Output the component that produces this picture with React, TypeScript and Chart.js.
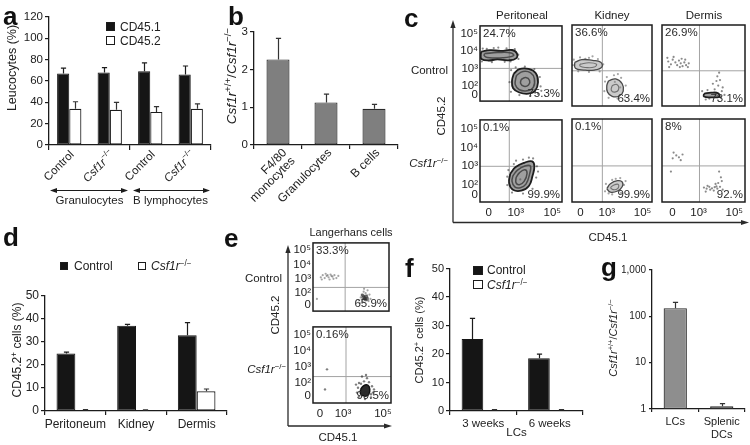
import React, { useEffect, useRef } from 'react';
import { Chart, registerables } from 'chart.js';

Chart.register(...registerables);

const FONT = '"Liberation Sans", Arial, Helvetica, sans-serif';
const INK = '#1c1c1c';
const TXT = '#222222';
Chart.defaults.font.family = FONT;
Chart.defaults.color = TXT;
if (typeof document !== 'undefined') document.body.style.margin = '0';

// ================= DATA =================
// Panel a
const aCategories = ['Control', 'Csf1r-/-', 'Control', 'Csf1r-/-'];
const aGroups = ['Granulocytes', 'B lymphocytes'];
const aSeriesNames = ['CD45.1', 'CD45.2'];
const aCD451 = [67, 68, 69, 66];
const aCD451Err = [5, 4.5, 8, 8];
const aCD452 = [34, 33, 31, 34];
const aCD452Err = [6.5, 7, 5, 4.5];
const aYMin = 0, aYMax = 120, aYStep = 20;

// Panel b
const bCategories = [['F4/80', 'monocytes'], ['Granulocytes'], ['B cells']];
const bRatio = [2.27, 1.13, 0.96];
const bRatioErr = [0.56, 0.22, 0.12];
const bYMin = 0, bYMax = 3, bYStep = 1;

// Panel c (flow cytometry; axis units are decades on a biexponential display)
const cColumns = ['Peritoneal', 'Kidney', 'Dermis'];
const cRows = ['Control', 'Csf1r-/-'];
const cTopLeft = ['24.7%', '36.6%', '26.9%', '0.1%', '0.1%', '8%'];
const cBottomRight = ['75.3%', '63.4%', '73.1%', '99.9%', '99.9%', '92.%'];
const flowXLabels = ['0', '10³', '10⁵'];
const flowYLabels = ['0', '10²', '10³', '10⁴', '10⁵'];
const cXTicks = [1.53, 3, 5];
const cYTicks = [1.47, 2, 3, 4, 5];
const cXRanges = [[1.05, 5.53], [1.05, 5.53], [0.95, 5.6]];
const cYRange = [1.1, 5.47];
const cGateX = [2.65, 2.75, 3.05];
const cGateY = 3.0;

const cPerCtrlClusters = [
  [
    [[1.12, 3.98], [1.6, 4.06], [2.2, 4.02], [2.8, 4.07], [3.06, 3.88], [3.02, 3.58], [2.6, 3.47], [2.0, 3.52], [1.5, 3.46], [1.13, 3.55], [1.09, 3.77], [1.12, 3.98]],
    [[1.3, 3.86], [2.0, 3.92], [2.75, 3.9], [2.88, 3.74], [2.3, 3.62], [1.45, 3.64], [1.28, 3.74], [1.3, 3.86]],
  ],
  [
    [[2.9, 2.7], [3.2, 2.96], [3.7, 2.97], [4.1, 2.72], [4.22, 2.2], [4.06, 1.7], [3.7, 1.53], [3.2, 1.6], [2.86, 1.85], [2.8, 2.3], [2.9, 2.7]],
    [[3.05, 2.6], [3.4, 2.82], [3.82, 2.74], [4.02, 2.4], [3.96, 1.9], [3.62, 1.7], [3.2, 1.76], [2.98, 2.05], [3.0, 2.4], [3.05, 2.6]],
    [[3.3, 2.36], [3.55, 2.47], [3.76, 2.3], [3.7, 2.04], [3.45, 1.96], [3.27, 2.12], [3.3, 2.36]],
  ],
];
const cPerCtrlDots = [[1.2, 4.15], [1.8, 4.18], [2.5, 4.16], [2.95, 4.12], [3.14, 3.8], [2.4, 3.38], [1.7, 3.36], [1.15, 3.4], [3.15, 3.55], [2.05, 4.21], [1.42, 4.13], [2.72, 3.4], [2.75, 2.9], [3.0, 3.06], [3.5, 3.1], [4.02, 2.96], [4.32, 2.5], [4.36, 1.95], [4.22, 1.52], [3.8, 1.4], [3.2, 1.45], [2.74, 1.64], [2.66, 2.2], [4.4, 1.7]];

const cKidCtrlClusters = [
  [
    [[1.2, 3.45], [1.6, 3.6], [2.2, 3.56], [2.66, 3.46], [2.72, 3.2], [2.3, 3.04], [1.7, 3.04], [1.24, 3.14], [1.2, 3.45]],
    [[1.5, 3.36], [2.0, 3.43], [2.42, 3.35], [2.3, 3.2], [1.8, 3.18], [1.5, 3.25], [1.5, 3.36]],
  ],
  [
    [[3.1, 2.46], [3.5, 2.56], [3.86, 2.3], [3.92, 1.9], [3.7, 1.64], [3.3, 1.62], [3.04, 1.85], [3.0, 2.2], [3.1, 2.46]],
    [[3.3, 2.2], [3.56, 2.26], [3.66, 2.0], [3.45, 1.85], [3.25, 1.95], [3.3, 2.2]],
  ],
];
const cKidCtrlDots = [[1.15, 3.6], [1.5, 3.72], [2.0, 3.7], [2.5, 3.63], [2.8, 3.35], [2.6, 2.96], [2.0, 2.94], [1.4, 2.97], [1.1, 3.3], [2.2, 3.78], [1.8, 3.64], [3.0, 2.66], [3.4, 2.76], [3.8, 2.62], [4.06, 2.2], [4.02, 1.6], [3.6, 1.5], [3.1, 1.54], [2.86, 1.9], [2.9, 2.42], [3.62, 2.82], [3.45, 2.4], [3.75, 2.1]];

const cDerCtrlClusters = [
  [[[3.3, 1.76], [3.7, 1.82], [4.1, 1.79], [4.16, 1.6], [3.7, 1.57], [3.3, 1.61], [3.3, 1.76]]],
];
const cDerCtrlDots = [[1.3, 3.5], [1.45, 3.35], [1.55, 3.6], [1.7, 3.45], [1.8, 3.3], [1.9, 3.55], [2.0, 3.4], [2.1, 3.25], [2.2, 3.45], [2.3, 3.3], [2.4, 3.2], [1.6, 3.75], [2.05, 3.65], [1.35, 3.2], [2.45, 3.4], [1.95, 3.2], [1.25, 3.7], [2.25, 3.6], [3.2, 1.9], [3.5, 1.96], [3.9, 2.0], [4.1, 2.2], [4.2, 2.5], [4.05, 2.7], [4.3, 1.9], [3.8, 2.3], [4.0, 2.45], [4.35, 2.1], [3.6, 1.5], [4.25, 1.55], [3.4, 1.45], [4.15, 2.9], [3.95, 1.7], [4.45, 1.7]];

const cPerKOClusters = [
  [
    [[2.7, 2.6], [3.0, 2.96], [3.5, 3.2], [3.9, 3.26], [4.02, 3.0], [3.92, 2.5], [3.72, 1.95], [3.3, 1.7], [2.85, 1.75], [2.64, 2.1], [2.7, 2.6]],
    [[2.85, 2.5], [3.1, 2.8], [3.5, 3.02], [3.8, 3.02], [3.76, 2.6], [3.56, 2.05], [3.25, 1.86], [2.95, 1.9], [2.8, 2.2], [2.85, 2.5]],
    [[3.02, 2.4], [3.2, 2.65], [3.5, 2.82], [3.62, 2.62], [3.46, 2.2], [3.2, 2.02], [3.02, 2.12], [3.02, 2.4]],
  ],
];
const cPerKODots = [[2.6, 2.8], [2.9, 3.12], [3.4, 3.36], [3.95, 3.42], [4.16, 3.0], [4.12, 2.4], [3.92, 1.8], [3.4, 1.55], [2.8, 1.6], [2.54, 2.0], [2.54, 2.45], [4.22, 2.72], [3.02, 3.3], [3.72, 3.46], [3.25, 2.3]];

const cKidKOClusters = [
  [
    [[3.0, 1.8], [3.2, 2.06], [3.6, 2.22], [3.86, 2.16], [3.86, 1.9], [3.6, 1.68], [3.2, 1.62], [3.0, 1.8]],
    [[3.2, 1.86], [3.4, 2.0], [3.65, 2.02], [3.6, 1.8], [3.35, 1.75], [3.2, 1.86]],
  ],
];
const cKidKODots = [[2.95, 2.05], [3.3, 2.26], [3.75, 2.36], [3.96, 2.0], [3.8, 1.58], [3.3, 1.5], [2.9, 1.66], [3.5, 2.32], [4.05, 2.2], [3.1, 1.55]];

const cDerKODots = [[1.6, 3.7], [1.75, 3.55], [1.9, 3.45], [2.0, 3.3], [1.55, 3.4], [2.1, 3.6], [1.45, 2.7], [3.3, 1.86], [3.45, 1.8], [3.6, 1.9], [3.75, 1.82], [3.9, 1.88], [4.05, 1.8], [4.2, 1.9], [3.5, 1.95], [3.85, 1.7], [4.1, 2.1], [4.25, 2.4], [4.15, 2.7], [4.3, 2.2], [3.95, 2.05], [4.35, 1.75], [3.4, 1.65], [3.65, 1.75], [4.0, 1.92]];

// Panel d
const dCategories = ['Peritoneum', 'Kidney', 'Dermis'];
const dSeriesNames = ['Control', 'Csf1r-/-'];
const dControl = [24.8, 36.8, 32.7];
const dControlErr = [0.6, 0.6, 5.5];
const dKO = [0.3, 0.3, 8.5];
const dKOErr = [0.3, 0.2, 1.0];
const dYMin = 0, dYMax = 50, dYStep = 10;

// Panel e
const eTitle = 'Langerhans cells';
const eTopLeft = ['33.3%', '0.16%'];
const eBottomRight = ['65.9%', '99.5%'];
const eXTicks = [1.85, 3, 5];
const eYTicks = [1.2, 2, 3, 4, 5];
const eXRange = [1.5, 5.4];
const eYRange = [0.75, 5.5];
const eGateX = 3.15;
const eGateY = 2.4;
const eCtrlDots = [[1.9, 3.1], [2.0, 3.25], [2.1, 3.05], [2.2, 3.2], [2.3, 3.1], [2.4, 3.3], [2.5, 3.15], [2.6, 3.25], [2.7, 3.05], [2.15, 3.35], [2.35, 2.95], [2.55, 3.0], [1.95, 2.95], [2.8, 3.2], [2.45, 3.2], [2.25, 3.25], [3.85, 1.5], [3.95, 1.7], [4.0, 1.9], [4.1, 1.6], [4.15, 1.8], [4.2, 2.0], [4.25, 1.5], [4.3, 1.7], [4.4, 1.9], [4.05, 1.4], [4.35, 1.45], [4.1, 2.1], [3.9, 1.3], [4.2, 1.65], [4.15, 1.75], [4.45, 1.6], [4.0, 1.55], [4.28, 1.85], [4.12, 2.3], [4.3, 2.2], [1.7, 1.6]];
const eCtrlCore = [[4.15, 1.65], [4.22, 1.78], [4.08, 1.72], [4.18, 1.55], [4.05, 1.85], [4.28, 1.6]];
const eKOClusters = [
  [[[3.88, 1.6], [4.02, 1.82], [4.24, 1.86], [4.34, 1.6], [4.28, 1.28], [4.06, 1.18], [3.88, 1.32], [3.88, 1.6]]],
];
const eKODots = [[3.75, 1.7], [3.8, 2.0], [4.05, 2.1], [4.3, 2.05], [4.45, 1.8], [4.5, 1.4], [4.4, 1.1], [4.1, 1.0], [3.8, 1.15], [3.7, 1.4], [4.2, 2.3], [3.95, 2.4], [4.55, 1.6], [4.15, 2.5], [3.65, 1.9], [2.2, 2.85], [2.1, 1.6], [3.9, 1.95], [4.4, 1.3]];

// Panel f
const fCategories = ['3 weeks', '6 weeks'];
const fAxisLabel = 'LCs';
const fControl = [25.3, 18.5];
const fControlErr = [7.2, 1.5];
const fKO = [0.3, 0.3];
const fKOErr = [0.2, 0.2];
const fYMin = 0, fYMax = 50, fYStep = 10;

// Panel g
const gCategories = ['LCs', ['Splenic', 'DCs']];
const gRatio = [150, 1.15];
const gRatioErr = [50, 0.15];
const gTicks = [1, 10, 100, 1000];
const gTickLabels = ['1', '10', '100', '1,000'];

// ================= HELPERS =================
interface G { L: number; T: number; R: number; B: number; yw: number; xh: number; pl?: number; pt?: number; pr?: number; pb?: number; }
function place(g: G) {
  const pl = g.pl ?? 2, pt = g.pt ?? 8, pr = g.pr ?? 6, pb = g.pb ?? 2;
  return {
    rect: { left: g.L - g.yw - pl, top: g.T - pt, width: g.R - g.L + g.yw + pl + pr, height: g.B - g.T + g.xh + pt + pb },
    padding: { left: pl, top: pt, right: pr, bottom: pb },
  };
}

function baseOptions(padding: any, scales: any) {
  return {
    responsive: false, maintainAspectRatio: false, animation: false, devicePixelRatio: 1, events: [],
    layout: { padding },
    plugins: { legend: { display: false }, tooltip: { enabled: false } },
    scales,
  };
}

function catAxis(h: number, tickLen: number, every2 = false, labels = false, size = 11.5, pad = 2) {
  return {
    type: 'category',
    ticks: { display: labels, font: { family: FONT, size }, color: TXT, padding: pad, maxRotation: 0, minRotation: 0, autoSkip: false },
    grid: {
      offset: true, drawOnChartArea: false, drawTicks: true, tickLength: tickLen, lineWidth: 1.2,
      color: every2 ? (c: any) => (c.index === undefined || c.index % 2 === 0 ? INK : 'rgba(0,0,0,0)') : INK,
    },
    border: { display: true, color: INK, width: 1.3 },
    afterFit: (s: any) => { s.height = h; },
  };
}

function valAxis(w: number, min: number, max: number, step: number, size = 11, tickLen = 4) {
  return {
    type: 'linear', min, max,
    ticks: { stepSize: step, font: { family: FONT, size }, color: TXT, padding: 2 },
    grid: { drawOnChartArea: false, drawTicks: true, tickLength: tickLen, color: INK, lineWidth: 1.2 },
    border: { display: true, color: INK, width: 1.3 },
    afterFit: (s: any) => { s.width = w; },
  };
}

function errorBars(errs: (number[] | null)[], colors: string[], cap = 2.6) {
  return {
    id: 'errbars',
    afterDatasetsDraw(chart: any) {
      const ctx = chart.ctx; const ys = chart.scales.y;
      ctx.save(); ctx.lineWidth = 1.2;
      chart.data.datasets.forEach((ds: any, i: number) => {
        const e = errs[i]; if (!e) return;
        chart.getDatasetMeta(i).data.forEach((el: any, j: number) => {
          const top = ys.getPixelForValue(ds.data[j] + e[j]);
          const x = Math.round(el.x) + 0.5;
          ctx.strokeStyle = colors[i];
          ctx.beginPath();
          ctx.moveTo(x, el.y); ctx.lineTo(x, top);
          ctx.moveTo(x - cap, top); ctx.lineTo(x + cap, top);
          ctx.stroke();
        });
      });
      ctx.restore();
    },
  };
}

type Seg = { t: string; i?: boolean; sup?: boolean };
function segsFor(label: string): Seg[] {
  if (label.startsWith('Csf1r')) return [{ t: 'Csf1r', i: true }, { t: '−/−', sup: true }];
  return [{ t: label }];
}
function drawRich(ctx: any, segs: Seg[], x: number, y: number, size: number, align: string, rot: number, color: string) {
  ctx.save(); ctx.translate(x, y); ctx.rotate(rot);
  const f = (s: Seg) => `${s.i ? 'italic ' : ''}${s.sup ? size * 0.68 : size}px ${FONT}`;
  let w = 0; segs.forEach((s) => { ctx.font = f(s); w += ctx.measureText(s.t).width; });
  let cx = align === 'left' ? 0 : align === 'center' ? -w / 2 : -w;
  ctx.fillStyle = color; ctx.textBaseline = 'middle'; ctx.textAlign = 'left';
  segs.forEach((s) => { ctx.font = f(s); ctx.fillText(s.t, cx, s.sup ? -size * 0.38 : 0); cx += ctx.measureText(s.t).width; });
  ctx.restore();
}
function tri(ctx: any, x: number, y: number, dir: number) {
  ctx.beginPath(); ctx.moveTo(x, y); ctx.lineTo(x + dir * 7, y - 2.6); ctx.lineTo(x + dir * 7, y + 2.6); ctx.closePath(); ctx.fill();
}

// ================= PANEL CONFIGS =================
const gA: G = { L: 49, T: 16, R: 211, B: 145, yw: 30, xh: 62 };
const makeA = (padding: any) => ({
  type: 'bar',
  data: {
    labels: aCategories,
    datasets: [
      { label: aSeriesNames[0], data: aCD451, backgroundColor: '#151515', borderColor: '#151515', borderWidth: 1, borderSkipped: false, categoryPercentage: 0.6, barPercentage: 1 },
      { label: aSeriesNames[1], data: aCD452, backgroundColor: '#ffffff', borderColor: INK, borderWidth: 1.2, borderSkipped: false, categoryPercentage: 0.6, barPercentage: 1 },
    ],
  },
  options: baseOptions(padding, { x: catAxis(62, 5, true), y: valAxis(30, aYMin, aYMax, aYStep, 11.5) }),
  plugins: [
    errorBars([aCD451Err, aCD452Err], [INK, '#333']),
    {
      id: 'aLabels',
      afterDraw(chart: any) {
        const xs = chart.scales.x; const ctx = chart.ctx;
        aCategories.forEach((lab, i) => {
          drawRich(ctx, segsFor(lab), xs.getPixelForTick(i) + 3, xs.top + 8, 11.5, 'right', -Math.PI / 4, TXT);
        });
        const left = xs.left, right = xs.right;
        const mid = (xs.getPixelForTick(1) + xs.getPixelForTick(2)) / 2;
        const ay = xs.top + 45.5;
        ctx.save(); ctx.strokeStyle = INK; ctx.fillStyle = INK; ctx.lineWidth = 1.2;
        [[left + 1, mid - 2], [mid + 3, right - 1]].forEach(([x1, x2]) => {
          ctx.beginPath(); ctx.moveTo(x1 + 4, ay); ctx.lineTo(x2 - 4, ay); ctx.stroke();
          tri(ctx, x1, ay, 1); tri(ctx, x2, ay, -1);
        });
        ctx.font = `11.5px ${FONT}`; ctx.textAlign = 'center'; ctx.textBaseline = 'middle'; ctx.fillStyle = TXT;
        ctx.fillText(aGroups[0], (left + mid) / 2, ay + 10);
        ctx.fillText(aGroups[1], (mid + right) / 2, ay + 10);
        ctx.restore();
      },
    },
  ],
});

const gB: G = { L: 254, T: 31, R: 398, B: 145, yw: 22, xh: 60 };
const makeB = (padding: any) => ({
  type: 'bar',
  data: {
    labels: bCategories.map((c) => c.join(' ')),
    datasets: [{ data: bRatio, backgroundColor: '#7f7f7f', borderColor: '#2a2a2a', borderWidth: 1.2, borderSkipped: false, categoryPercentage: 1, barPercentage: 0.48 }],
  },
  options: baseOptions(padding, { x: catAxis(60, 4), y: valAxis(22, bYMin, bYMax, bYStep, 11.5) }),
  plugins: [
    errorBars([bRatioErr], ['#333']),
    {
      id: 'bLabels',
      afterDraw(chart: any) {
        const xs = chart.scales.x; const ctx = chart.ctx;
        bCategories.forEach((lines, i) => {
          const px = xs.getPixelForTick(i);
          const ax = lines.length > 1 ? px + 7 : px + 4;
          ctx.save(); ctx.translate(ax, xs.top + 6); ctx.rotate(-Math.PI / 4);
          ctx.font = `12px ${FONT}`; ctx.fillStyle = TXT; ctx.textAlign = 'right'; ctx.textBaseline = 'middle';
          lines.forEach((ln, k) => ctx.fillText(ln, 0, k * 11.5));
          ctx.restore();
        });
      },
    },
  ],
});

type Tone = { stroke: string; inner: string; fill: string; width: number; dot: string; dotR: number };
const DARK: Tone = { stroke: '#1e1e1e', inner: '#2e2e2e', fill: 'rgba(95,95,95,0.6)', width: 1.8, dot: 'rgba(60,60,60,0.6)', dotR: 1.1 };
const MID: Tone = { stroke: '#4a4a4a', inner: '#5a5a5a', fill: 'rgba(140,140,140,0.45)', width: 1.3, dot: 'rgba(90,90,90,0.55)', dotR: 1.1 };
const BLACK: Tone = { stroke: '#111', inner: '#111', fill: 'rgba(20,20,20,0.9)', width: 1.5, dot: 'rgba(40,40,40,0.6)', dotR: 1.2 };

interface FlowSpec {
  g: G; xr: number[]; yr: number[]; gx: number; gy: number;
  showX: boolean; showY: boolean; xTicks: number[]; yTicks: number[];
  clusters: number[][][][]; dots: number[][]; core?: number[][]; tone: Tone; tl: string; br: string;
}
function flowMaker(s: FlowSpec) {
  return (padding: any) => {
    const xy = (p: number[]) => ({ x: p[0], y: p[1] });
    const datasets: any[] = [];
    s.clusters.forEach((cl) => cl.forEach((poly, lvl) => {
      datasets.push({
        type: 'line', data: poly.map(xy), borderColor: lvl === 0 ? s.tone.stroke : s.tone.inner,
        borderWidth: lvl === 0 ? s.tone.width : s.tone.width * 0.85, backgroundColor: s.tone.fill,
        fill: lvl === 0 ? 'shape' : false, tension: 0.45, pointRadius: 0, order: 1,
      });
    }));
    if (s.core) datasets.push({ type: 'scatter', data: s.core.map(xy), pointRadius: 1.8, backgroundColor: 'rgba(45,45,45,0.65)', borderWidth: 0, order: 1 });
    datasets.push({ type: 'scatter', data: s.dots.map(xy), pointRadius: s.tone.dotR, backgroundColor: s.tone.dot, borderWidth: 0, order: 2 });
    const gate = { type: 'line', borderColor: '#a3a3a3', borderWidth: 1, pointRadius: 0, tension: 0, order: 5 };
    datasets.push({ ...gate, data: [{ x: s.gx, y: s.yr[0] }, { x: s.gx, y: s.yr[1] }] });
    datasets.push({ ...gate, data: [{ x: s.xr[0], y: s.gy }, { x: s.xr[1], y: s.gy }] });
    return {
      type: 'scatter',
      data: { datasets },
      options: baseOptions(padding, {
        x: {
          type: 'linear', min: s.xr[0], max: s.xr[1],
          afterBuildTicks: (sc: any) => { sc.ticks = s.xTicks.map((v) => ({ value: v })); },
          ticks: { display: s.showX, callback: (_v: any, i: number) => flowXLabels[i], font: { family: FONT, size: 11.5 }, color: TXT, padding: 4, maxRotation: 0, minRotation: 0, autoSkip: false },
          grid: { display: false, drawTicks: false }, border: { display: false },
          afterFit: (sc: any) => { sc.height = s.g.xh; },
        },
        y: {
          type: 'linear', min: s.yr[0], max: s.yr[1],
          afterBuildTicks: (sc: any) => { sc.ticks = s.yTicks.map((v) => ({ value: v })); },
          ticks: { display: s.showY, callback: (_v: any, i: number) => flowYLabels[i], font: { family: FONT, size: 11.5 }, color: TXT, padding: 2, autoSkip: false },
          grid: { display: false, drawTicks: false }, border: { display: false },
          afterFit: (sc: any) => { sc.width = s.g.yw; },
        },
      }),
      plugins: [{
        id: 'flowDecor',
        afterDraw(chart: any) {
          const { ctx, chartArea: a } = chart;
          ctx.save();
          ctx.strokeStyle = INK; ctx.lineWidth = 1.5;
          ctx.strokeRect(a.left, a.top, a.right - a.left, a.bottom - a.top);
          ctx.fillStyle = '#2a2a2a'; ctx.font = `11.5px ${FONT}`; ctx.textBaseline = 'middle';
          ctx.textAlign = 'left'; ctx.fillText(s.tl, a.left + 3, a.top + 8);
          ctx.textAlign = 'right'; ctx.fillText(s.br, a.right - 2, a.bottom - 7);
          ctx.restore();
        },
      }],
    };
  };
}

const cBoxes: G[] = [
  { L: 480, T: 25, R: 564, B: 108, yw: 26, xh: 0, pr: 2 },
  { L: 570, T: 25, R: 654, B: 108, yw: 0, xh: 0, pr: 2 },
  { L: 660, T: 25, R: 748, B: 108, yw: 0, xh: 0, pr: 1 },
  { L: 480, T: 119, R: 564, B: 202, yw: 26, xh: 18, pr: 2 },
  { L: 570, T: 119, R: 654, B: 202, yw: 0, xh: 18, pr: 2 },
  { L: 660, T: 119, R: 748, B: 202, yw: 0, xh: 18, pr: 1 },
];
const cClusters = [cPerCtrlClusters, cKidCtrlClusters, cDerCtrlClusters, cPerKOClusters, cKidKOClusters, []];
const cDots = [cPerCtrlDots, cKidCtrlDots, cDerCtrlDots, cPerKODots, cKidKODots, cDerKODots];
const cTones = [DARK, MID, DARK, DARK, MID, DARK];
const cMakers = cBoxes.map((g, k) => flowMaker({
  g, xr: cXRanges[k % 3], yr: cYRange, gx: cGateX[k % 3], gy: cGateY,
  showX: k >= 3, showY: k % 3 === 0, xTicks: cXTicks, yTicks: cYTicks,
  clusters: cClusters[k], dots: cDots[k], tone: cTones[k], tl: cTopLeft[k], br: cBottomRight[k],
}));

const eBoxes: G[] = [
  { L: 313, T: 242, R: 391, B: 318, yw: 22, xh: 0, pr: 2 },
  { L: 313, T: 326, R: 391, B: 403, yw: 22, xh: 18, pr: 6 },
];
const eMakers = [
  flowMaker({ g: eBoxes[0], xr: eXRange, yr: eYRange, gx: eGateX, gy: eGateY, showX: false, showY: true, xTicks: eXTicks, yTicks: eYTicks, clusters: [], dots: eCtrlDots, core: eCtrlCore, tone: MID, tl: eTopLeft[0], br: eBottomRight[0] }),
  flowMaker({ g: eBoxes[1], xr: eXRange, yr: eYRange, gx: eGateX, gy: eGateY, showX: true, showY: true, xTicks: eXTicks, yTicks: eYTicks, clusters: eKOClusters, dots: eKODots, tone: BLACK, tl: eTopLeft[1], br: eBottomRight[1] }),
];

function groupedBars(control: number[], ko: number[], catPct: number) {
  return [
    { label: 'Control', data: control, backgroundColor: '#151515', borderColor: '#151515', borderWidth: 1, borderSkipped: false, categoryPercentage: catPct, barPercentage: 1 },
    { label: 'Csf1r-/-', data: ko, backgroundColor: '#ffffff', borderColor: INK, borderWidth: 1.2, borderSkipped: false, categoryPercentage: catPct, barPercentage: 1 },
  ];
}

const gD: G = { L: 45, T: 294, R: 227, B: 411, yw: 24, xh: 22 };
const makeD = (padding: any) => ({
  type: 'bar',
  data: { labels: dCategories, datasets: groupedBars(dControl, dKO, 0.62) },
  options: baseOptions(padding, { x: catAxis(22, 4, false, true, 12, 2), y: valAxis(24, dYMin, dYMax, dYStep, 12) }),
  plugins: [errorBars([dControlErr, dKOErr], [INK, '#333'])],
});

const gF: G = { L: 450, T: 268, R: 583, B: 411, yw: 22, xh: 30 };
const makeF = (padding: any) => ({
  type: 'bar',
  data: { labels: fCategories, datasets: groupedBars(fControl, fKO, 0.65) },
  options: baseOptions(padding, { x: catAxis(30, 4, false, true, 11.5, 2), y: valAxis(22, fYMin, fYMax, fYStep, 11) }),
  plugins: [
    errorBars([fControlErr, fKOErr], [INK, '#333']),
    {
      id: 'fAxisLabel',
      afterDraw(chart: any) {
        const xs = chart.scales.x; const ctx = chart.ctx;
        ctx.save(); ctx.font = `11.5px ${FONT}`; ctx.fillStyle = TXT; ctx.textAlign = 'center'; ctx.textBaseline = 'middle';
        ctx.fillText(fAxisLabel, (xs.left + xs.right) / 2, xs.top + 22);
        ctx.restore();
      },
    },
  ],
});

const gG: G = { L: 652, T: 269, R: 745, B: 409, yw: 30, xh: 34, pr: 3 };
const makeG = (padding: any) => ({
  type: 'bar',
  data: { labels: gCategories, datasets: [{ data: gRatio, backgroundColor: '#8e8e8e', borderColor: '#2a2a2a', borderWidth: 1.2, borderSkipped: false, categoryPercentage: 1, barPercentage: 0.5 }] },
  options: baseOptions(padding, {
    x: catAxis(34, 3, false, true, 11, 3),
    y: {
      type: 'logarithmic', min: 1, max: 1000,
      afterBuildTicks: (sc: any) => { sc.ticks = gTicks.map((v) => ({ value: v })); },
      ticks: { callback: (_v: any, i: number) => gTickLabels[i], font: { family: FONT, size: 10 }, color: TXT, padding: 3, autoSkip: false },
      grid: { drawOnChartArea: false, drawTicks: true, tickLength: 3, color: INK, lineWidth: 1.2 },
      border: { display: true, color: INK, width: 1.3 },
      afterFit: (sc: any) => { sc.width = 30; },
    },
  }),
  plugins: [errorBars([gRatioErr], ['#333'])],
});

// ================= COMPONENTS =================
function ChartCanvas({ g, make }: { g: G; make: (pad: any) => any }) {
  const ref = useRef<HTMLCanvasElement | null>(null);
  const { rect, padding } = place(g);
  useEffect(() => {
    const chart = new Chart(ref.current as HTMLCanvasElement, make(padding) as any);
    return () => chart.destroy();
  }, []);
  return (
    <canvas ref={ref} width={rect.width} height={rect.height}
      style={{ position: 'absolute', left: rect.left, top: rect.top, width: rect.width, height: rect.height }} />
  );
}

function Label({ x, y, align = 'left', rot = 0, size = 12, bold = false, children }: any) {
  const tx = align === 'left' ? '0' : align === 'center' ? '-50%' : '-100%';
  return (
    <div style={{
      position: 'absolute', left: x, top: y, whiteSpace: 'nowrap', lineHeight: 1, fontSize: size,
      fontWeight: bold ? 700 : 400, color: TXT, fontFamily: FONT,
      transform: rot ? `translate(-50%,-50%) rotate(${rot}deg)` : `translate(${tx},-50%)`,
    }}>{children}</div>
  );
}
function Letter({ x, y, children }: any) {
  return <div style={{ position: 'absolute', left: x, top: y, fontSize: 26, lineHeight: '26px', fontWeight: 700, color: '#111', fontFamily: FONT }}>{children}</div>;
}
const Sup = ({ children, s = 0.68 }: any) => <span style={{ fontSize: `${s}em`, position: 'relative', top: '-0.5em' }}>{children}</span>;
function Rich({ label }: { label: string }) {
  if (label.startsWith('Csf1r')) return <><i>Csf1r</i><Sup>−/−</Sup></>;
  return <>{label}</>;
}
function Swatch({ x, y, w = 9, h = 9, black }: any) {
  return <div style={{ position: 'absolute', left: x, top: y, width: w, height: h, boxSizing: 'border-box', background: black ? '#151515' : '#fff', border: `1.2px solid ${INK}` }} />;
}

function Arrows() {
  const s = { stroke: '#2a2a2a', strokeWidth: 1.3 };
  return (
    <svg width={750} height={445} style={{ position: 'absolute', left: 0, top: 0 }}>
      <line x1={453} y1={222.5} x2={453} y2={27} {...s} />
      <polygon points="453,20 450.4,28 455.6,28" fill="#2a2a2a" />
      <line x1={453} y1={222.5} x2={742} y2={222.5} {...s} />
      <polygon points="749,222.5 741,219.9 741,225.1" fill="#2a2a2a" />
      <line x1={288} y1={426} x2={288} y2={252} {...s} />
      <polygon points="288,245 285.4,253 290.6,253" fill="#2a2a2a" />
      <line x1={288} y1={426} x2={385} y2={426} {...s} />
      <polygon points="392,426 384,423.4 384,428.6" fill="#2a2a2a" />
    </svg>
  );
}

export default function App() {
  useEffect(() => { document.body.style.margin = '0'; }, []);
  const cColX = [522, 612, 704];
  return (
    <div style={{ position: 'relative', width: 750, height: 445, overflow: 'hidden', background: '#fff', fontFamily: FONT, color: TXT }}>
      <ChartCanvas g={gA} make={makeA} />
      <ChartCanvas g={gB} make={makeB} />
      {cBoxes.map((g, k) => <ChartCanvas key={'c' + k} g={g} make={cMakers[k]} />)}
      <ChartCanvas g={gD} make={makeD} />
      {eBoxes.map((g, k) => <ChartCanvas key={'e' + k} g={g} make={eMakers[k]} />)}
      <ChartCanvas g={gF} make={makeF} />
      <ChartCanvas g={gG} make={makeG} />
      <Arrows />

      {/* panel letters */}
      <Letter x={3} y={3}>a</Letter>
      <Letter x={228} y={3}>b</Letter>
      <Letter x={404} y={5}>c</Letter>
      <Letter x={3} y={224}>d</Letter>
      <Letter x={224} y={225}>e</Letter>
      <Letter x={405} y={255}>f</Letter>
      <Letter x={601} y={254}>g</Letter>

      {/* a */}
      <Label x={12} y={68} rot={-90} size={12.5}>Leucocytes (%)</Label>
      <Swatch x={106} y={22} black />
      <Label x={120} y={27} size={12}>{aSeriesNames[0]}</Label>
      <Swatch x={106} y={36} />
      <Label x={120} y={41} size={12}>{aSeriesNames[1]}</Label>

      {/* b */}
      <Label x={232} y={76} rot={-90} size={13.5}><i>Csf1r</i><Sup s={0.72}>+/+</Sup>/<i>Csf1r</i><Sup s={0.72}>−/−</Sup></Label>

      {/* c */}
      {cColumns.map((t, i) => <Label key={t} x={cColX[i]} y={16} align="center" size={11.5}>{t}</Label>)}
      <Label x={448} y={71} align="right" size={11.5}><Rich label={cRows[0]} /></Label>
      <Label x={448} y={164} align="right" size={11.5}><Rich label={cRows[1]} /></Label>
      <Label x={442} y={116} rot={-90} size={11.5}>CD45.2</Label>
      <Label x={608} y={238} align="center" size={11.5}>CD45.1</Label>

      {/* d */}
      <Swatch x={60} y={262} w={8} h={8} black />
      <Label x={74} y={266} size={12}>{dSeriesNames[0]}</Label>
      <Swatch x={138} y={262} w={8} h={8} />
      <Label x={151} y={266} size={12}><Rich label={dSeriesNames[1]} /></Label>
      <Label x={17} y={350} rot={-90} size={12}>CD45.2<Sup>+</Sup> cells (%)</Label>

      {/* e */}
      <Label x={351} y={232} align="center" size={11}>{eTitle}</Label>
      <Label x={282} y={279} align="right" size={11.5}>Control</Label>
      <Label x={286} y={370} align="right" size={11.5}><Rich label="Csf1r-/-" /></Label>
      <Label x={276} y={315} rot={-90} size={11.5}>CD45.2</Label>
      <Label x={338} y={438} align="center" size={11.5}>CD45.1</Label>

      {/* f */}
      <Swatch x={473} y={266} w={10} h={9} black />
      <Label x={487} y={270} size={12}>Control</Label>
      <Swatch x={473} y={280} w={10} h={9} />
      <Label x={487} y={285} size={12}><Rich label="Csf1r-/-" /></Label>
      <Label x={419} y={340} rot={-90} size={11}>CD45.2<Sup>+</Sup> cells (%)</Label>

      {/* g */}
      <Label x={613} y={338} rot={-90} size={11}><i>Csf1r</i><Sup>+/+</Sup>/<i>Csf1r</i><Sup>−/−</Sup></Label>
    </div>
  );
}
